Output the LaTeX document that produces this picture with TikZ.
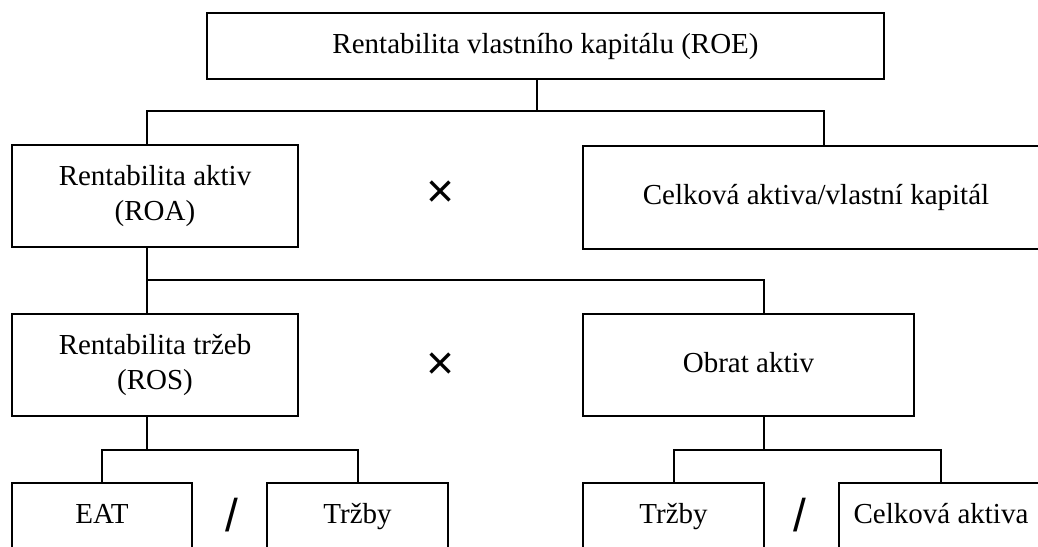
\documentclass[tikz,border=0pt]{standalone}
\usepackage{fontspec}
\setmainfont{Liberation Serif}
\newfontfamily\opfont{Liberation Sans}
\usetikzlibrary{positioning, calc}

\tikzset{
  box/.style={draw, line width=2pt, align=center, inner sep=0pt,
    font=\fontsize{29}{35}\selectfont},
  onebox/.style={box, text height=20pt, text depth=6pt},
  op/.style={font=\opfont\fontsize{48}{48}\selectfont},
  slash/.style={font=\opfont\fontsize{46}{46}\selectfont},
  link/.style={line width=2pt}
}

\begin{document}
\begin{tikzpicture}[x=1pt, y=-1pt]
  \useasboundingbox (0,0) rectangle (1038,546);
  \fill[white] (0,0) rectangle (1038,546);
  \clip (0,0) rectangle (1038,546);

  % Top level
  \node[onebox, minimum width=677pt, minimum height=66pt] (roe) at (545.5,46) {Rentabilita vlastního kapitálu (ROE)};

  % Second level
  \node[box, minimum width=286pt, minimum height=102pt] (roa) at (155,196) {Rentabilita aktiv\\(ROA)};
  \node[onebox, minimum width=466pt, minimum height=103pt] (cap) at (816,197.5) {Celková aktiva/vlastní kapitál};
  \node[op] (times1) at (441,194) {×};

  % Third level
  \node[box, minimum width=286pt, minimum height=102pt] (ros) at (155,365) {Rentabilita tržeb\\(ROS)};
  \node[onebox, minimum width=331pt, minimum height=102pt] (obrat) at (748.5,365) {Obrat aktiv};
  \node[op] (times2) at (441,366) {×};

  % Bottom level
  \node[onebox, minimum width=180pt, minimum height=66pt] (eat) at (102,516) {EAT};
  \node[onebox, minimum width=181pt, minimum height=66pt] (trzbyA) at (357.5,516) {Tržby};
  \node[slash] (div1) at (232,515) {/};
  \node[onebox, minimum width=181pt, minimum height=66pt] (trzbyB) at (673.5,516) {Tržby};
  \node[onebox, minimum width=204pt, minimum height=66pt] (aktiva) at (941,516) {Celková aktiva};
  \node[slash] (div2) at (800,515) {/};

  % Branch points
  \coordinate (roeJ) at (537,111);
  \coordinate (leftX) at (147,0);
  \coordinate (capX) at (824,0);
  \coordinate (roaJ) at (147,280);
  \coordinate (obratX) at (764,0);
  \coordinate (rosJ) at (147,450);
  \coordinate (obratJ) at (764,450);

  % Connectors
  \draw[link] (roe.south -| roeJ) -- (roeJ);
  \draw[link] (roa.north -| leftX) |- (roeJ) -| (cap.north -| capX);
  \draw[link] (roa.south -| leftX) -- (roaJ) -- (ros.north -| leftX);
  \draw[link] (roaJ) -| (obrat.north -| obratX);
  \draw[link] (ros.south -| leftX) -- (rosJ);
  \draw[link] (eat.north) |- (rosJ) -| (trzbyA.north);
  \draw[link] (obrat.south -| obratX) -- (obratJ);
  \draw[link] (trzbyB.north) |- (obratJ) -| (aktiva.north);
\end{tikzpicture}
\end{document}
